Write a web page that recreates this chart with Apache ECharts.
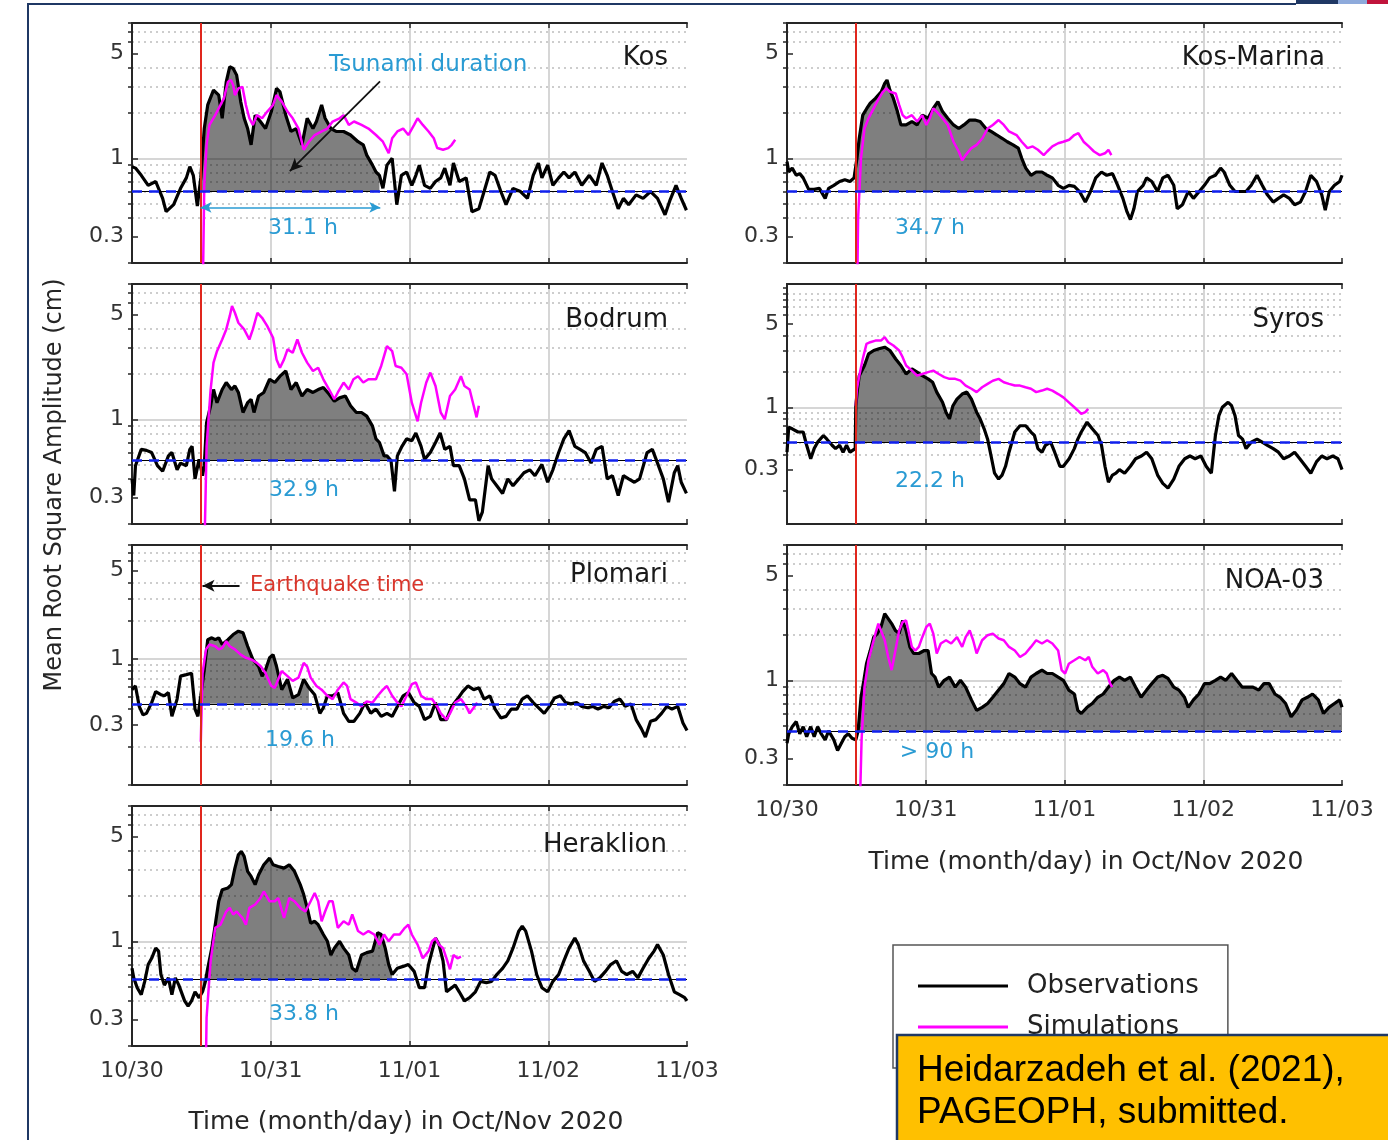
<!DOCTYPE html>
<html>
<head>
<meta charset="utf-8">
<title>Mean root square amplitude, Oct/Nov 2020</title>
<script src="https://cdn.jsdelivr.net/npm/echarts@6.0.0/dist/echarts.min.js"></script>
<style>
  html, body { margin: 0; padding: 0; background: #fff; }
  #chart { width: 1388px; height: 1140px; }
</style>
</head>
<body>
<div id="chart"></div>
<script>
// x is hours since 10/30 00:00
const dayLabels = ['10/30', '10/31', '11/01', '11/02', '11/03']
const yTickValues = [0.3, 1, 5]
const yMinorValues = [0.1, 0.2, 0.4, 0.5, 0.6, 0.7, 0.8, 0.9, 2, 3, 4, 6, 7, 8, 9, 10]
const eqTime = 11.85

const stationNames = ['Kos', 'Bodrum', 'Plomari', 'Heraklion', 'Kos-Marina', 'Syros', 'NOA-03']
const durations = [31.1, 32.9, 19.6, 33.8, 34.7, 22.2, null]
const durationLabels = ['31.1 h', '32.9 h', '19.6 h', '33.8 h', '34.7 h', '22.2 h', '> 90 h']
const thresholds = [0.6, 0.53, 0.44, 0.56, 0.6, 0.51, 0.46]
const yMins = [0.2, 0.2, 0.1, 0.2, 0.2, 0.105, 0.2]
const yMaxs = [8, 8, 8, 8, 8, 10.8, 8]

const kosObs = [[0,0.88],[0.6,0.86],[1.6,0.77],[2.8,0.66],[4.1,0.70],[5.3,0.54],[5.9,0.44],[7.2,0.49],[8.4,0.63],[9.4,0.74],[10.0,0.88],[10.6,0.77],[11.3,0.48],[11.9,0.74],[12.5,1.58],[13.1,2.27],[14.1,2.85],[15.0,2.64],[15.6,1.85],[16.3,3.24],[16.9,4.08],[17.5,3.98],[18.1,3.59],[18.8,2.39],[19.4,1.85],[20.0,1.58],[20.6,1.23],[21.3,1.94],[22.2,1.76],[23.1,1.58],[24.1,2.05],[25.0,2.93],[25.6,2.78],[26.6,1.94],[27.5,1.51],[28.4,1.58],[29.4,1.23],[30.3,1.85],[31.3,1.58],[31.9,1.76],[32.8,2.27],[33.4,1.85],[34.4,1.58],[35.3,1.51],[36.6,1.51],[37.8,1.43],[39.1,1.29],[40.0,1.23],[40.6,1.05],[41.6,0.90],[42.2,0.81],[42.8,0.77],[43.4,0.63],[44.1,0.90],[45.0,1.0],[45.8,0.49],[46.6,0.77],[47.5,0.81],[48.4,0.66],[49.1,0.77],[49.7,0.90],[50.6,0.66],[51.6,0.63],[52.5,0.70],[53.4,0.74],[54.1,0.86],[55.0,0.66],[55.6,0.93],[56.6,0.70],[57.8,0.74],[58.8,0.44],[60.0,0.46],[60.9,0.60],[61.9,0.81],[62.8,0.77],[63.8,0.60],[64.7,0.49],[65.9,0.63],[67.2,0.60],[68.4,0.54],[69.4,0.77],[70.3,0.93],[70.9,0.74],[71.9,0.90],[72.8,0.66],[73.8,0.74],[74.7,0.81],[75.6,0.74],[76.6,0.81],[77.8,0.66],[79.1,0.77],[80.3,0.66],[81.3,0.93],[82.2,0.77],[83.1,0.60],[84.1,0.46],[85.0,0.54],[85.9,0.49],[87.2,0.57],[88.4,0.54],[89.7,0.60],[90.9,0.54],[92.2,0.42],[93.1,0.53],[94.1,0.66],[95.0,0.54],[95.9,0.45]]
const kosSim = [[12.1,0.05],[12.5,0.66],[12.9,1.23],[13.4,1.67],[14.4,1.94],[15.3,2.27],[15.9,2.51],[16.6,3.24],[17.1,3.33],[17.5,3.08],[17.8,2.64],[18.4,2.93],[19.1,3.0],[19.7,2.27],[20.3,1.85],[20.9,1.67],[21.6,1.94],[22.5,1.85],[23.4,2.05],[24.4,2.27],[25.0,2.64],[25.9,2.39],[26.9,2.05],[27.8,1.85],[28.8,1.58],[29.7,1.14],[30.6,1.29],[31.6,1.43],[32.8,1.51],[33.8,1.58],[34.7,1.76],[35.9,1.85],[36.6,1.94],[37.5,1.67],[38.4,1.76],[39.7,1.67],[40.9,1.58],[42.2,1.43],[43.4,1.29],[44.4,1.08],[45.0,1.36],[45.9,1.51],[46.9,1.58],[47.8,1.43],[48.8,1.67],[49.4,1.85],[50.3,1.67],[51.3,1.51],[52.2,1.36],[52.8,1.17],[53.8,1.14],[54.7,1.17],[55.3,1.23],[55.9,1.33]]

const bodrumObs = [[0,0.40],[0.3,0.31],[0.6,0.49],[1.6,0.63],[2.5,0.62],[3.4,0.60],[4.4,0.49],[5.3,0.45],[6.3,0.57],[6.9,0.60],[7.8,0.46],[8.4,0.51],[9.4,0.49],[10.0,0.63],[10.4,0.66],[10.9,0.40],[11.6,0.54],[12.2,0.42],[12.5,0.49],[12.9,0.95],[13.6,1.23],[14.1,1.58],[14.7,1.29],[15.6,1.58],[16.3,1.76],[17.2,1.58],[17.8,1.67],[18.4,1.51],[19.2,1.11],[20.0,1.29],[20.6,1.36],[21.1,1.11],[21.9,1.43],[22.8,1.51],[23.8,1.85],[24.7,1.76],[25.6,1.94],[26.6,2.10],[27.5,1.58],[28.4,1.76],[29.4,1.43],[30.3,1.58],[31.3,1.51],[32.2,1.58],[33.1,1.63],[34.1,1.47],[35.0,1.32],[35.9,1.39],[36.9,1.43],[37.8,1.23],[38.8,1.11],[39.7,1.11],[40.6,1.05],[41.6,0.90],[42.2,0.74],[42.8,0.70],[43.6,0.57],[44.1,0.57],[44.8,0.53],[45.4,0.33],[45.9,0.57],[46.7,0.66],[47.5,0.74],[48.4,0.72],[49.1,0.81],[50.0,0.66],[50.6,0.54],[51.6,0.60],[52.5,0.70],[53.3,0.81],[54.1,0.63],[55.0,0.66],[55.6,0.49],[56.6,0.49],[57.5,0.40],[58.4,0.29],[59.4,0.29],[60.0,0.21],[60.6,0.24],[61.6,0.49],[62.2,0.40],[63.1,0.36],[64.1,0.32],[65.0,0.40],[65.9,0.36],[66.9,0.40],[67.8,0.44],[68.8,0.46],[69.7,0.42],[70.9,0.50],[71.9,0.38],[72.8,0.46],[73.8,0.60],[74.7,0.74],[75.6,0.84],[76.6,0.66],[77.5,0.63],[78.4,0.60],[79.4,0.51],[80.3,0.63],[81.3,0.66],[82.2,0.40],[83.1,0.42],[84.1,0.31],[85.0,0.42],[85.9,0.40],[86.9,0.38],[87.8,0.40],[89.1,0.60],[90.0,0.63],[90.9,0.51],[91.9,0.40],[92.8,0.28],[93.8,0.44],[94.4,0.49],[95.0,0.38],[95.9,0.32]]
const bodrumSim = [[12.3,0.05],[12.9,0.66],[13.6,1.58],[14.1,2.39],[14.7,2.85],[15.6,3.41],[16.3,3.98],[16.9,4.88],[17.3,5.70],[17.8,5.14],[18.4,4.41],[19.4,3.98],[20.3,3.41],[20.9,3.98],[21.7,5.14],[22.5,4.76],[23.4,4.19],[24.4,3.50],[25.0,2.51],[25.6,2.21],[26.3,2.51],[26.9,2.93],[27.8,2.78],[28.6,3.41],[29.4,2.78],[30.3,2.39],[31.3,2.10],[32.2,2.21],[33.1,1.85],[34.1,1.58],[35.0,1.36],[35.6,1.51],[36.6,1.76],[37.5,1.58],[38.3,1.85],[39.1,1.94],[40.0,1.76],[40.9,1.85],[42.2,1.85],[43.1,2.27],[44.1,3.08],[45.0,2.85],[45.6,2.27],[46.6,2.21],[47.5,2.0],[48.4,1.29],[49.4,0.97],[50.0,1.29],[50.9,1.76],[51.6,2.05],[52.5,1.67],[53.4,1.11],[54.1,1.0],[55.0,1.43],[55.9,1.58],[56.9,1.94],[57.5,1.67],[58.4,1.58],[59.1,1.23],[59.6,1.03],[60.0,1.23]]

const plomariObs = [[0,0.57],[0.6,0.61],[1.25,0.42],[1.9,0.36],[2.5,0.37],[3.4,0.45],[4.1,0.55],[5.0,0.52],[5.6,0.51],[6.3,0.54],[6.9,0.35],[7.8,0.48],[8.4,0.73],[9.4,0.75],[10.3,0.77],[10.9,0.40],[11.4,0.35],[11.9,0.51],[12.5,0.82],[13.1,1.42],[13.8,1.47],[14.4,1.42],[15.0,1.47],[15.6,1.30],[16.6,1.42],[17.5,1.56],[18.4,1.66],[19.2,1.61],[20.0,1.26],[20.9,0.99],[21.9,0.87],[22.5,0.73],[23.1,0.82],[23.8,1.02],[24.4,1.08],[25.0,0.87],[25.9,0.57],[26.9,0.69],[27.8,0.49],[28.8,0.52],[29.7,0.69],[30.6,0.59],[31.6,0.52],[32.5,0.37],[33.1,0.41],[33.8,0.51],[34.7,0.51],[35.6,0.54],[36.6,0.37],[37.5,0.32],[38.4,0.32],[39.4,0.37],[40.3,0.45],[41.3,0.37],[42.2,0.40],[43.1,0.35],[44.1,0.37],[45.0,0.35],[45.9,0.42],[46.9,0.51],[47.8,0.54],[48.8,0.45],[49.7,0.42],[50.6,0.33],[51.6,0.35],[52.5,0.45],[53.4,0.33],[54.4,0.33],[55.3,0.42],[56.3,0.48],[57.2,0.55],[58.1,0.61],[59.1,0.57],[60.0,0.59],[60.9,0.48],[61.9,0.51],[62.8,0.40],[63.8,0.34],[64.7,0.35],[65.6,0.40],[66.6,0.40],[67.5,0.48],[68.4,0.51],[69.4,0.45],[70.3,0.41],[71.3,0.37],[72.2,0.42],[73.1,0.49],[74.1,0.51],[75.0,0.45],[75.9,0.44],[76.9,0.45],[77.8,0.42],[78.8,0.41],[79.7,0.42],[80.6,0.40],[81.6,0.42],[82.5,0.41],[83.4,0.46],[84.4,0.48],[85.3,0.42],[86.3,0.44],[87.2,0.33],[88.1,0.28],[88.8,0.24],[89.7,0.32],[90.6,0.33],[91.6,0.37],[92.5,0.42],[93.4,0.40],[94.4,0.42],[95.3,0.31],[96.0,0.27]]
const plomariSim = [[11.9,0.22],[12.2,0.77],[12.8,1.19],[13.4,1.30],[14.4,1.26],[15.0,1.19],[15.6,1.22],[16.3,1.38],[16.9,1.26],[17.8,1.19],[18.8,1.08],[19.7,1.02],[20.6,0.99],[21.6,0.93],[22.3,0.87],[23.1,0.77],[24.1,0.61],[24.7,0.59],[25.3,0.69],[25.9,0.80],[26.9,0.73],[27.8,0.67],[28.8,0.71],[29.7,0.93],[30.3,0.87],[30.9,0.71],[31.9,0.61],[32.8,0.57],[33.8,0.51],[34.7,0.48],[35.6,0.57],[36.6,0.65],[37.2,0.61],[37.8,0.48],[38.8,0.45],[39.7,0.42],[40.6,0.46],[41.6,0.45],[42.5,0.51],[43.4,0.57],[44.1,0.61],[45.0,0.51],[45.9,0.45],[46.6,0.42],[47.5,0.51],[48.4,0.63],[49.1,0.65],[50.0,0.51],[50.9,0.48],[51.9,0.48],[52.8,0.42],[53.4,0.37],[54.4,0.33],[55.0,0.37],[55.9,0.45],[56.9,0.48],[57.8,0.42],[58.4,0.37],[59.1,0.41],[59.7,0.45]]

const heraklionObs = [[0,0.66],[0.3,0.57],[0.9,0.49],[1.6,0.44],[2.2,0.54],[2.8,0.70],[3.4,0.77],[4.1,0.90],[4.6,0.86],[5.0,0.60],[5.6,0.51],[6.3,0.57],[6.9,0.44],[7.5,0.57],[8.1,0.51],[9.1,0.40],[9.7,0.37],[10.3,0.40],[10.9,0.46],[11.6,0.42],[12.2,0.46],[12.7,0.54],[13.1,0.66],[13.8,0.90],[14.4,1.29],[15.0,1.85],[15.6,2.21],[16.6,2.27],[17.2,2.39],[17.8,3.08],[18.4,3.78],[18.9,3.98],[19.4,3.69],[20.0,2.93],[20.6,2.71],[21.3,2.39],[21.9,2.78],[22.8,3.24],[23.8,3.59],[24.4,3.24],[25.3,3.16],[26.3,3.08],[27.2,3.24],[28.1,2.93],[29.1,2.39],[29.7,2.05],[30.3,1.67],[30.9,1.32],[31.6,1.36],[32.2,1.29],[33.1,1.11],[33.8,1.0],[34.4,0.81],[35.0,0.90],[35.9,1.0],[36.6,0.90],[37.5,0.81],[38.1,0.66],[38.8,0.63],[39.7,0.81],[40.6,0.84],[41.6,0.86],[42.5,1.14],[43.1,1.11],[43.8,0.90],[44.4,0.70],[45.0,0.60],[45.9,0.66],[46.9,0.68],[47.8,0.70],[48.8,0.63],[49.7,0.49],[50.6,0.49],[51.3,0.70],[51.9,0.86],[52.5,1.05],[53.1,0.95],[53.8,0.74],[54.4,0.46],[55.3,0.49],[55.9,0.51],[56.6,0.46],[57.5,0.40],[58.4,0.42],[59.4,0.46],[60.3,0.54],[61.3,0.53],[62.2,0.54],[63.1,0.60],[64.1,0.66],[65.0,0.74],[65.9,0.90],[66.9,1.17],[67.5,1.26],[68.1,1.17],[69.1,0.86],[70.0,0.60],[70.9,0.49],[71.9,0.46],[72.8,0.54],[73.8,0.60],[74.7,0.74],[75.6,0.90],[76.6,1.05],[77.2,0.95],[78.1,0.74],[79.1,0.63],[80.0,0.54],[80.9,0.57],[81.9,0.63],[82.8,0.70],[83.8,0.74],[84.7,0.63],[85.6,0.60],[86.6,0.63],[87.5,0.57],[88.4,0.66],[89.4,0.77],[90.3,0.86],[90.9,0.95],[91.9,0.81],[92.8,0.60],[93.8,0.46],[94.7,0.44],[95.6,0.42],[96.0,0.40]]
const heraklionSim = [[12.6,0.05],[12.9,0.31],[13.6,0.74],[14.4,1.23],[15.3,1.29],[16.3,1.58],[16.9,1.67],[17.5,1.51],[18.1,1.58],[19.1,1.43],[19.7,1.29],[20.3,1.67],[21.3,1.76],[22.2,1.94],[22.8,2.15],[23.8,1.85],[24.7,1.85],[25.3,1.94],[26.3,1.43],[27.2,1.94],[28.1,1.85],[29.1,1.67],[30.0,1.58],[30.9,1.85],[31.6,2.10],[32.2,1.85],[32.8,1.36],[33.4,1.58],[34.1,1.85],[34.7,1.85],[35.6,1.23],[36.6,1.36],[37.5,1.29],[38.1,1.51],[39.1,1.17],[40.0,1.11],[40.9,1.17],[41.9,1.11],[42.8,0.95],[43.6,1.11],[44.4,1.0],[45.3,1.11],[46.3,1.11],[47.2,1.23],[47.8,1.29],[48.4,1.11],[49.4,0.95],[50.3,0.77],[51.3,0.86],[51.9,1.0],[52.5,1.05],[53.1,0.95],[53.8,0.90],[54.4,0.77],[55.0,0.65],[55.6,0.81],[56.3,0.77],[56.9,0.79]]

const kosMarinaObs = [[0,0.95],[0.3,0.81],[0.9,0.86],[1.6,0.77],[2.2,0.79],[2.8,0.74],[3.75,0.62],[4.7,0.62],[5.6,0.63],[6.6,0.54],[7.2,0.63],[8.1,0.66],[9.1,0.70],[10.0,0.72],[10.9,0.70],[11.6,0.74],[12.1,1.0],[12.5,1.36],[13.1,1.94],[13.8,2.15],[14.4,2.33],[15.3,2.51],[16.3,2.78],[16.9,3.16],[17.3,3.33],[17.8,2.85],[18.4,2.51],[19.1,2.05],[19.7,1.67],[20.6,1.67],[21.6,1.76],[22.5,1.67],[23.4,1.94],[24.4,1.85],[25.3,2.15],[26.1,2.39],[26.9,2.05],[27.8,1.85],[28.8,1.67],[29.7,1.58],[30.6,1.67],[31.6,1.80],[32.5,1.80],[33.4,1.76],[34.4,1.58],[35.3,1.51],[36.3,1.43],[37.2,1.36],[38.1,1.29],[39.1,1.23],[40.0,1.17],[40.6,1.0],[41.3,0.86],[42.2,0.77],[43.1,0.81],[44.1,0.81],[45.0,0.77],[45.9,0.74],[46.9,0.66],[47.8,0.63],[48.8,0.66],[49.7,0.65],[50.6,0.60],[51.6,0.51],[52.5,0.60],[53.4,0.74],[54.4,0.81],[55.3,0.77],[56.3,0.79],[57.2,0.66],[58.1,0.54],[58.8,0.44],[59.4,0.39],[60.0,0.46],[60.6,0.60],[61.6,0.66],[62.2,0.74],[63.1,0.70],[64.1,0.60],[65.0,0.74],[65.9,0.77],[66.9,0.66],[67.5,0.46],[68.4,0.49],[69.4,0.60],[70.3,0.54],[71.3,0.60],[72.2,0.66],[73.1,0.74],[74.1,0.77],[75.0,0.86],[75.6,0.81],[76.6,0.66],[77.5,0.60],[78.4,0.60],[79.4,0.60],[80.3,0.66],[81.3,0.77],[82.2,0.66],[83.1,0.57],[84.1,0.51],[85.0,0.54],[85.9,0.57],[86.9,0.54],[87.8,0.49],[88.8,0.51],[89.7,0.60],[90.6,0.77],[91.6,0.70],[92.5,0.57],[93.1,0.45],[93.8,0.60],[94.7,0.66],[95.6,0.70],[96.0,0.77]]
const kosMarinaSim = [[12.0,0.05],[12.3,0.40],[12.8,1.0],[13.4,1.58],[14.1,1.85],[14.7,2.05],[15.3,2.27],[15.9,2.51],[16.6,2.78],[17.2,2.93],[17.8,2.78],[18.8,2.71],[19.4,2.27],[20.0,1.94],[20.6,1.85],[21.6,1.94],[22.5,1.76],[23.4,1.94],[24.1,1.67],[24.7,1.85],[25.3,2.15],[25.9,2.05],[26.9,1.85],[27.8,1.67],[28.8,1.29],[29.7,1.11],[30.3,0.97],[30.9,1.05],[31.9,1.17],[32.8,1.23],[33.8,1.36],[34.7,1.58],[35.6,1.67],[36.6,1.80],[37.5,1.67],[38.4,1.51],[39.7,1.43],[40.6,1.29],[41.6,1.17],[42.5,1.20],[43.4,1.14],[44.4,1.05],[45.0,1.11],[45.9,1.20],[46.9,1.26],[47.8,1.29],[48.8,1.33],[49.7,1.43],[50.4,1.47],[51.3,1.29],[52.2,1.20],[53.1,1.11],[54.1,1.05],[55.0,1.08],[55.6,1.14],[56.1,1.05]]

const syrosObs = [[0,0.42],[0.3,0.68],[0.9,0.66],[1.9,0.62],[2.8,0.62],[3.4,0.48],[4.1,0.37],[4.7,0.45],[5.3,0.51],[6.3,0.58],[6.9,0.54],[7.8,0.48],[8.4,0.45],[9.1,0.48],[9.7,0.42],[10.3,0.48],[10.9,0.42],[11.8,0.45],[11.9,1.03],[12.2,1.43],[12.5,1.84],[13.4,2.24],[14.1,2.80],[15.0,2.99],[15.9,3.09],[16.9,3.19],[17.8,2.99],[18.8,2.54],[19.7,2.24],[20.6,1.90],[21.6,2.10],[22.5,1.97],[23.4,1.84],[24.4,1.73],[25.2,1.62],[25.9,1.34],[26.9,1.10],[27.5,0.91],[28.1,0.80],[28.7,1.03],[29.4,1.17],[30.3,1.29],[31.1,1.34],[31.9,1.17],[32.8,0.91],[33.4,0.80],[34.1,0.66],[34.7,0.54],[35.3,0.39],[35.9,0.28],[36.6,0.25],[37.2,0.27],[37.8,0.32],[38.4,0.42],[39.4,0.62],[40.3,0.70],[41.3,0.70],[42.2,0.62],[42.8,0.58],[43.4,0.45],[44.1,0.42],[44.7,0.48],[45.6,0.51],[46.3,0.42],[47.2,0.32],[47.8,0.32],[48.8,0.37],[49.7,0.45],[50.3,0.54],[50.9,0.62],[51.9,0.75],[52.8,0.66],[53.8,0.58],[54.4,0.48],[55.0,0.32],[55.6,0.235],[56.3,0.27],[56.9,0.28],[57.5,0.30],[58.4,0.28],[59.4,0.32],[60.3,0.37],[61.3,0.39],[62.2,0.42],[63.1,0.37],[64.1,0.27],[65.0,0.23],[65.9,0.21],[66.9,0.25],[67.8,0.32],[68.8,0.37],[69.7,0.39],[70.6,0.37],[71.6,0.39],[72.5,0.32],[73.4,0.28],[74.1,0.58],[74.7,0.85],[75.3,1.0],[76.3,1.10],[76.9,1.03],[77.5,0.85],[78.1,0.58],[78.8,0.54],[79.4,0.45],[80.3,0.51],[81.3,0.54],[82.2,0.51],[83.1,0.48],[84.1,0.45],[85.0,0.42],[85.9,0.37],[86.9,0.39],[87.8,0.42],[88.7,0.37],[89.7,0.32],[90.6,0.28],[91.6,0.35],[92.5,0.39],[93.4,0.37],[94.4,0.39],[95.3,0.37],[96.0,0.30]]
const syrosSim = [[11.9,1.03],[12.1,1.43],[12.5,1.84],[13.1,2.54],[13.75,3.40],[14.4,3.51],[15.3,3.62],[16.25,3.62],[16.9,3.87],[17.5,3.51],[18.4,3.29],[19.4,2.99],[20.0,2.63],[20.6,2.24],[21.6,2.03],[22.5,1.84],[23.4,1.90],[24.4,1.97],[25.3,2.03],[26.25,1.90],[27.2,1.79],[28.1,1.73],[29.1,1.73],[30.0,1.67],[30.9,1.52],[31.9,1.43],[32.8,1.34],[33.75,1.47],[34.7,1.57],[35.6,1.67],[36.6,1.73],[37.5,1.62],[38.4,1.57],[39.4,1.52],[40.3,1.52],[41.25,1.47],[42.2,1.43],[43.1,1.34],[44.1,1.38],[45.0,1.43],[45.9,1.38],[46.9,1.29],[47.8,1.21],[48.75,1.10],[49.7,1.0],[50.3,0.94],[50.9,0.88],[51.6,0.91],[52.1,0.97]]

const noaObs = [[0,0.38],[0.3,0.44],[0.9,0.49],[1.6,0.53],[2.2,0.44],[2.8,0.49],[3.4,0.42],[4.1,0.49],[4.7,0.42],[5.3,0.49],[5.9,0.44],[6.6,0.40],[7.2,0.46],[8.1,0.40],[8.75,0.34],[9.4,0.38],[10.0,0.42],[10.6,0.44],[11.25,0.41],[11.9,0.40],[12.3,0.46],[12.8,0.77],[13.3,1.0],[13.75,1.29],[14.4,1.58],[15.0,1.94],[15.6,2.05],[16.25,2.27],[16.9,2.78],[17.5,2.58],[18.1,2.39],[18.75,2.15],[19.4,2.05],[20.0,2.51],[20.6,2.15],[21.25,1.67],[21.9,1.51],[22.8,1.51],[23.75,1.58],[24.4,1.58],[25.0,1.11],[25.6,1.05],[26.25,0.90],[27.2,1.0],[28.1,1.05],[29.1,0.90],[30.0,1.0],[30.9,0.90],[31.9,0.74],[32.8,0.63],[33.75,0.66],[34.7,0.70],[35.6,0.77],[36.6,0.86],[37.5,0.95],[38.4,1.11],[39.4,1.05],[40.3,0.95],[41.25,0.90],[42.2,1.05],[43.1,1.11],[44.1,1.17],[45.0,1.11],[45.9,1.11],[46.9,1.05],[47.8,1.0],[48.75,0.86],[49.7,0.81],[50.3,0.63],[50.9,0.60],[51.9,0.66],[52.8,0.70],[53.75,0.77],[54.7,0.81],[55.6,0.90],[56.6,1.0],[57.5,1.05],[58.4,1.0],[59.4,1.05],[60.3,0.90],[61.25,0.77],[62.2,0.86],[63.1,0.95],[64.1,1.05],[65.0,1.08],[65.9,1.03],[66.9,0.90],[67.8,0.86],[68.75,0.77],[69.4,0.66],[70.3,0.74],[71.25,0.81],[72.2,0.95],[73.1,0.95],[74.1,1.0],[75.0,1.05],[75.9,1.0],[76.9,1.11],[77.8,1.0],[78.75,0.90],[79.7,0.90],[80.6,0.90],[81.6,0.86],[82.5,0.95],[83.4,0.95],[84.4,0.81],[85.3,0.77],[86.25,0.70],[87.2,0.57],[88.1,0.63],[89.1,0.74],[90.0,0.77],[90.9,0.81],[91.9,0.74],[92.8,0.60],[93.75,0.66],[94.7,0.70],[95.6,0.74],[96.0,0.66]]
const noaSim = [[12.3,0.05],[12.9,0.40],[13.4,0.90],[14.1,1.36],[14.7,1.67],[15.3,2.05],[15.8,2.39],[16.25,2.15],[16.9,1.85],[17.5,1.43],[18.1,1.17],[18.75,1.58],[19.4,2.15],[20.0,2.45],[20.6,2.51],[21.1,2.05],[21.6,1.67],[22.2,1.58],[22.8,1.67],[23.4,1.94],[24.1,2.27],[24.7,2.39],[25.3,2.05],[25.9,1.51],[26.6,1.76],[27.5,1.85],[28.4,1.76],[29.4,1.94],[30.3,1.67],[30.9,1.94],[31.6,2.15],[32.2,1.85],[32.8,1.51],[33.75,1.85],[34.7,2.0],[35.6,2.05],[36.6,1.90],[37.5,1.85],[38.4,1.67],[39.4,1.58],[40.3,1.43],[41.25,1.51],[42.2,1.67],[43.1,1.85],[44.1,1.76],[45.0,1.85],[45.9,1.76],[46.9,1.58],[47.5,1.17],[48.1,1.11],[48.75,1.29],[49.7,1.36],[50.6,1.43],[51.6,1.36],[52.2,1.43],[52.8,1.23],[53.75,1.11],[54.7,1.17],[55.3,1.11],[55.9,0.95],[56.25,0.90]]

const obsSeries = [kosObs, bodrumObs, plomariObs, heraklionObs, kosMarinaObs, syrosObs, noaObs]
const simSeries = [kosSim, bodrumSim, plomariSim, heraklionSim, kosMarinaSim, syrosSim, noaSim]

// layout (pixels)
const panelPos = [[132, 23], [132, 284], [132, 545], [132, 806], [787, 23], [787, 284], [787, 545]]
const panelW = 555
const panelH = 240
const namePos = [[668, 58], [668, 320], [668, 575], [667, 845], [1325, 58], [1324, 320], [1324, 581]]
const durPos = [[303, 228], [304, 490], [300, 740], [304, 1014], [930, 228], [930, 481], [937, 752]]

const FONT = 'DejaVu Sans'
const CYAN = '#2a9bd3'
const AXIS = '#262626'

const chart = echarts.init(document.getElementById('chart'))

const grids = []
const xAxes = []
const yAxes = []
const series = []
const graphics = []

panelPos.forEach(([left, top], i) => {
  grids.push({ left, top, width: panelW, height: panelH, outerBoundsMode: 'none' })
  const bottomRow = i === 3 || i === 6
  const axisLine = { show: true, lineStyle: { color: AXIS, width: 2 } }

  xAxes.push({
    gridIndex: i, type: 'value', min: 0, max: 96, interval: 24, position: 'bottom',
    axisLine,
    axisTick: { show: true, inside: true, length: 5, lineStyle: { color: AXIS, width: 1.5 } },
    axisLabel: {
      show: bottomRow, margin: 14, color: '#333', fontSize: 22, fontFamily: FONT,
      formatter: v => dayLabels[Math.round(v / 24)]
    },
    splitLine: { show: true, showMinLine: false, showMaxLine: false, lineStyle: { color: '#d2d2d2', width: 1.8 } }
  })
  xAxes.push({
    gridIndex: i, type: 'value', min: 0, max: 96, interval: 24, position: 'top',
    axisLine,
    axisTick: { show: true, inside: true, length: 5, lineStyle: { color: AXIS, width: 1.5 } },
    axisLabel: { show: false },
    splitLine: { show: false }
  })
  yAxes.push({
    gridIndex: i, type: 'log', logBase: 10, min: yMins[i], max: yMaxs[i], position: 'left',
    axisLine,
    axisTick: { show: true, inside: true, length: 6, customValues: yTickValues, lineStyle: { color: AXIS, width: 1.5 } },
    axisLabel: {
      customValues: yTickValues, margin: 8, color: '#333', fontSize: 22, fontFamily: FONT,
      padding: [11, 0, 0, 0],
      formatter: v => String(Math.round(v * 10) / 10)
    },
    splitLine: { show: true, showMinLine: false, showMaxLine: false, lineStyle: { color: '#d6d6d6', width: 1.8 } }
  })
  yAxes.push({
    gridIndex: i, type: 'log', logBase: 10, min: yMins[i], max: yMaxs[i], position: 'right',
    axisLine,
    axisTick: { show: true, inside: true, length: 4, customValues: yMinorValues, lineStyle: { color: AXIS, width: 1.5 } },
    axisLabel: { show: false },
    splitLine: { show: true, showMinLine: false, showMaxLine: false, lineStyle: { color: '#bdbdbd', width: 1.6, type: [2, 4] } }
  })

  const xi = 2 * i
  const yi = 2 * i
  const shadeEnd = durations[i] == null ? 96 : eqTime + durations[i]

  const marks = [
    { xAxis: eqTime, lineStyle: { color: '#e0261d', width: 2, type: 'solid' } },
    { yAxis: thresholds[i], lineStyle: { color: '#000', width: 1, type: 'solid' } },
    { yAxis: thresholds[i], lineStyle: { color: '#1020ee', width: 2.5, type: [10, 7] } }
  ]
  if (i === 0) {
    // duration double arrow + pointer to the shaded area
    marks.push([
      { coord: [eqTime, 0.47], symbol: 'arrow', symbolSize: [8, 11], lineStyle: { color: CYAN, width: 1.5, type: 'solid' } },
      { coord: [eqTime + durations[0], 0.47], symbol: 'arrow', symbolSize: [8, 11] }
    ])
    marks.push([
      { coord: [42.9, 3.26], symbol: 'none', lineStyle: { color: '#111', width: 1.8, type: 'solid' } },
      { coord: [27.3, 0.82], symbol: 'arrow', symbolSize: [9, 13] }
    ])
  }
  if (i === 2) {
    marks.push([
      { coord: [18.6, 3.8], symbol: 'none', lineStyle: { color: '#111', width: 1.8, type: 'solid' } },
      { coord: [12.2, 3.8], symbol: 'arrow', symbolSize: [9, 12] }
    ])
  }

  series.push({
    type: 'line', name: 'shade', xAxisIndex: xi, yAxisIndex: yi,
    data: obsSeries[i].filter(p => p[0] >= eqTime && p[0] <= shadeEnd),
    symbol: 'none', silent: true, z: 1,
    lineStyle: { width: 0 },
    areaStyle: { color: 'rgba(0,0,0,0.5)', opacity: 1, origin: thresholds[i] }
  })
  series.push({
    type: 'line', name: 'Observations', xAxisIndex: xi, yAxisIndex: yi,
    data: obsSeries[i], symbol: 'none', z: 3,
    lineStyle: { color: '#000', width: 3.2 }, itemStyle: { color: '#000' },
    markLine: { silent: true, symbol: 'none', label: { show: false }, animation: false, data: marks }
  })
  series.push({
    type: 'line', name: 'Simulations', xAxisIndex: xi, yAxisIndex: yi,
    data: simSeries[i], symbol: 'none', z: 4,
    lineStyle: { color: '#ff00ff', width: 2.5 }, itemStyle: { color: '#ff00ff' }
  })

  graphics.push({
    type: 'text', x: namePos[i][0], y: namePos[i][1], z: 10,
    style: { text: stationNames[i], fill: '#1a1a1a', font: `26px "${FONT}"`,
      textAlign: 'right', align: 'right', textVerticalAlign: 'middle', verticalAlign: 'middle' }
  })
  graphics.push({
    type: 'text', x: durPos[i][0], y: durPos[i][1], z: 10,
    style: { text: durationLabels[i], fill: CYAN, font: `22px "${FONT}"`,
      textAlign: 'center', align: 'center', textVerticalAlign: 'middle', verticalAlign: 'middle' }
  })
})

const txt = (text, x, y, size, color, alignH, extra) => Object.assign({
  type: 'text', x, y, z: 10,
  style: { text, fill: color, font: `${size}px "${FONT}"`, textAlign: alignH, align: alignH,
    textVerticalAlign: 'middle', verticalAlign: 'middle' }
}, extra || {})

graphics.push(txt('Tsunami duration', 329, 65, 23, CYAN, 'left'))
graphics.push(txt('Earthquake time', 250, 586, 21, '#d9362b', 'left'))
graphics.push(txt('Mean Root Square Amplitude (cm)', 55, 485, 24, '#262626', 'center', { rotation: Math.PI / 2 }))
graphics.push(txt('Time (month/day) in Oct/Nov 2020', 406, 1122, 25, '#262626', 'center'))
graphics.push(txt('Time (month/day) in Oct/Nov 2020', 1086, 862, 25, '#262626', 'center'))

// slide frame and corner strip
graphics.push({ type: 'polyline', z: 0, shape: { points: [[28, 1140], [28, 4], [1296, 4]] }, style: { stroke: '#1f3864', lineWidth: 2, fill: null } })
graphics.push({ type: 'rect', z: 0, shape: { x: 1296, y: 0, width: 42, height: 4 }, style: { fill: '#1f3864' } })
graphics.push({ type: 'rect', z: 0, shape: { x: 1338, y: 0, width: 29, height: 4 }, style: { fill: '#8eaadb' } })
graphics.push({ type: 'rect', z: 0, shape: { x: 1367, y: 0, width: 21, height: 4 }, style: { fill: '#c0143c' } })

// citation box on top of the legend
graphics.push({ type: 'rect', z: 100, shape: { x: 897, y: 1035, width: 500, height: 110 }, style: { fill: '#ffc000', stroke: '#1f3864', lineWidth: 2.5 } })
graphics.push({ type: 'text', x: 917, y: 1071, z: 101,
  style: { text: 'Heidarzadeh et al. (2021),', fill: '#000', font: '37px "Liberation Sans"', textAlign: 'left', align: 'left', textVerticalAlign: 'middle', verticalAlign: 'middle' } })
graphics.push({ type: 'text', x: 917, y: 1113, z: 101,
  style: { text: 'PAGEOPH, submitted.', fill: '#000', font: '37px "Liberation Sans"', textAlign: 'left', align: 'left', textVerticalAlign: 'middle', verticalAlign: 'middle' } })

const option = {
  animation: false,
  backgroundColor: '#fff',
  textStyle: { fontFamily: FONT },
  grid: grids,
  xAxis: xAxes,
  yAxis: yAxes,
  legend: {
    data: [
      { name: 'Observations', icon: 'rect' },
      { name: 'Simulations', icon: 'rect' }
    ],
    orient: 'vertical',
    left: 893,
    top: 945,
    itemWidth: 90,
    itemHeight: 3,
    itemGap: 15,
    padding: [28, 29, 28, 25],
    borderColor: '#555',
    borderWidth: 1.5,
    backgroundColor: '#fff',
    selectedMode: false,
    textStyle: { fontSize: 26, color: '#222', fontFamily: FONT, padding: [0, 0, 0, 14] }
  },
  series,
  graphic: { elements: graphics }
}

chart.setOption(option)
</script>
</body>
</html>
